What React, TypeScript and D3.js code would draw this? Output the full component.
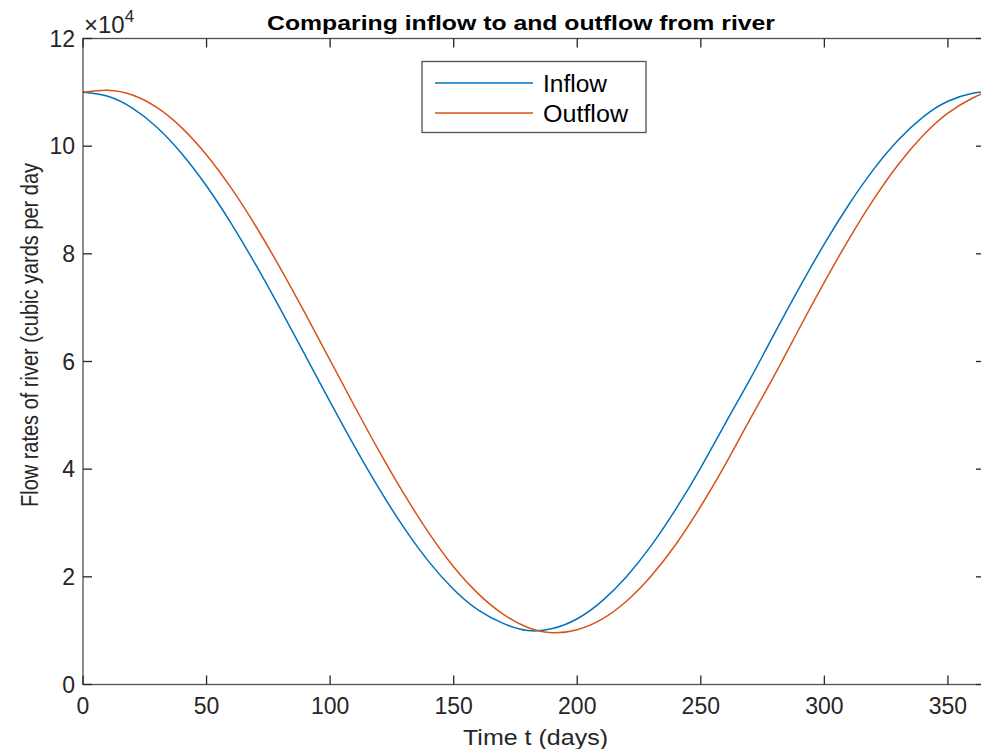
import { useEffect, useRef } from "react";
import * as d3 from "d3";

// days sampled along the x axis
const days = [0, 10, 20, 30, 40, 50, 60, 70, 80, 90, 100, 110, 120, 130, 140, 150, 160, 170, 180,
  190, 200, 210, 220, 230, 240, 250, 260, 270, 280, 290, 300, 310, 320, 330, 340, 350, 360, 365];

const inflow = [110000, 109261, 107066, 103480, 98608, 92594, 85619, 77885, 69623, 61077, 52507,
  44141, 36235, 29040, 22778, 17644, 13794, 11348, 10028, 10397, 12219, 15499, 20074, 25836, 32653,
  40306, 48569, 56772, 65363, 73807, 81850, 89216, 95732, 101190, 105440, 108342, 109815, 110000];

const outflow = [110000, 110393, 109499, 107143, 103392, 98361, 92199, 85075, 77214, 68839, 60218,
  51592, 43195, 35297, 28119, 21838, 16839, 13059, 10600, 9609, 10170, 12131, 15517, 20209, 26106,
  33113, 40938, 49325, 57612, 66266, 74737, 82790, 90161, 96631, 102018, 106146, 108945, 109900];

const xTicks = [0, 50, 100, 150, 200, 250, 300, 350];
const yTicks = [0, 2, 4, 6, 8, 10, 12];

const seriesNames = ["Inflow", "Outflow"];
const seriesColors = ["#0072BD", "#D95319"];
const legendTextWidths = [64, 85];

function App() {
  const ref = useRef<SVGSVGElement>(null);

  useEffect(() => {
    const svg = d3.select(ref.current);
    svg.selectAll("*").remove();

    const left = 83, right = 985, top = 38.5, bottom = 684.5;
    const axisColor = "#262626";
    const font = "'Liberation Sans', Arial, sans-serif";

    const x = d3.scaleLinear().domain([0, 365]).range([left, right]);
    const y = d3.scaleLinear().domain([0, 120000]).range([bottom, top]);

    // lines
    const line = d3.line<number>()
      .x((d, i) => x(days[i]))
      .y(d => y(d))
      .curve(d3.curveNatural);

    [inflow, outflow].forEach((vals, i) => {
      svg.append("path")
        .datum(vals)
        .attr("d", line)
        .attr("fill", "none")
        .attr("stroke", seriesColors[i])
        .attr("stroke-width", 1.5);
    });

    // box
    svg.append("rect")
      .attr("x", left).attr("y", top)
      .attr("width", right - left).attr("height", bottom - top)
      .attr("fill", "none")
      .attr("stroke", axisColor)
      .attr("stroke-opacity", 0.8)
      .attr("stroke-width", 1.3);

    const tickLen = 9;
    // x ticks (bottom and top, inward)
    xTicks.forEach(t => {
      svg.append("line")
        .attr("x1", x(t)).attr("x2", x(t))
        .attr("y1", bottom).attr("y2", bottom - tickLen)
        .attr("stroke", axisColor).attr("stroke-width", 1.3);
      svg.append("line")
        .attr("x1", x(t)).attr("x2", x(t))
        .attr("y1", top).attr("y2", top + tickLen)
        .attr("stroke", axisColor).attr("stroke-width", 1.3);
      svg.append("text")
        .attr("x", x(t)).attr("y", 706)
        .attr("text-anchor", "middle")
        .attr("dominant-baseline", "central")
        .style("font-family", font)
        .style("font-size", "23px")
        .attr("fill", axisColor)
        .text(t);
    });

    // y ticks (left and right, inward)
    yTicks.forEach(t => {
      svg.append("line")
        .attr("x1", left).attr("x2", left + tickLen)
        .attr("y1", y(t * 10000)).attr("y2", y(t * 10000))
        .attr("stroke", axisColor).attr("stroke-width", 1.3);
      svg.append("line")
        .attr("x1", right).attr("x2", right - tickLen)
        .attr("y1", y(t * 10000)).attr("y2", y(t * 10000))
        .attr("stroke", axisColor).attr("stroke-width", 1.3);
      svg.append("text")
        .attr("x", 75).attr("y", y(t * 10000))
        .attr("text-anchor", "end")
        .attr("dominant-baseline", "central")
        .style("font-family", font)
        .style("font-size", "23px")
        .attr("fill", axisColor)
        .text(t);
    });

    // exponent label
    const expo = svg.append("text")
      .attr("x", 84).attr("y", 33)
      .style("font-family", font)
      .style("font-size", "24px")
      .attr("fill", axisColor);
    expo.append("tspan").text("\u00d710");
    expo.append("tspan").attr("dy", -11).style("font-size", "17px").text("4");

    // title
    svg.append("text")
      .attr("x", 267).attr("y", 30)
      .attr("textLength", 508)
      .attr("lengthAdjust", "spacingAndGlyphs")
      .style("font-family", font)
      .style("font-size", "20px")
      .style("font-weight", "bold")
      .attr("fill", "#000")
      .text("Comparing inflow to and outflow from river");

    // axis labels
    svg.append("text")
      .attr("x", 463).attr("y", 745)
      .attr("textLength", 145)
      .attr("lengthAdjust", "spacingAndGlyphs")
      .style("font-family", font)
      .style("font-size", "22px")
      .attr("fill", axisColor)
      .text("Time t (days)");

    svg.append("text")
      .attr("transform", "translate(38, 507) rotate(-90)")
      .attr("textLength", 344)
      .attr("lengthAdjust", "spacingAndGlyphs")
      .style("font-family", font)
      .style("font-size", "23px")
      .attr("fill", axisColor)
      .text("Flow rates of river (cubic yards per day");

    // legend
    svg.append("rect")
      .attr("x", 422).attr("y", 61.5)
      .attr("width", 224).attr("height", 71)
      .attr("fill", "#fff")
      .attr("stroke", axisColor)
      .attr("stroke-opacity", 0.8)
      .attr("stroke-width", 1.3);

    seriesNames.forEach((name, i) => {
      const ly = 83 + i * 30;
      svg.append("line")
        .attr("x1", 435).attr("x2", 533)
        .attr("y1", ly).attr("y2", ly)
        .attr("stroke", seriesColors[i])
        .attr("stroke-width", 1.5);
      svg.append("text")
        .attr("x", 543).attr("y", ly + 8.5)
        .attr("textLength", legendTextWidths[i])
        .attr("lengthAdjust", "spacingAndGlyphs")
        .style("font-family", font)
        .style("font-size", "23px")
        .attr("fill", "#000")
        .text(name);
    });
  }, []);

  return (
    <svg
      ref={ref}
      width={981}
      height={749}
      style={{ position: "absolute", left: 0, top: 0, background: "#fff" }}
    />
  );
}

export default App;
